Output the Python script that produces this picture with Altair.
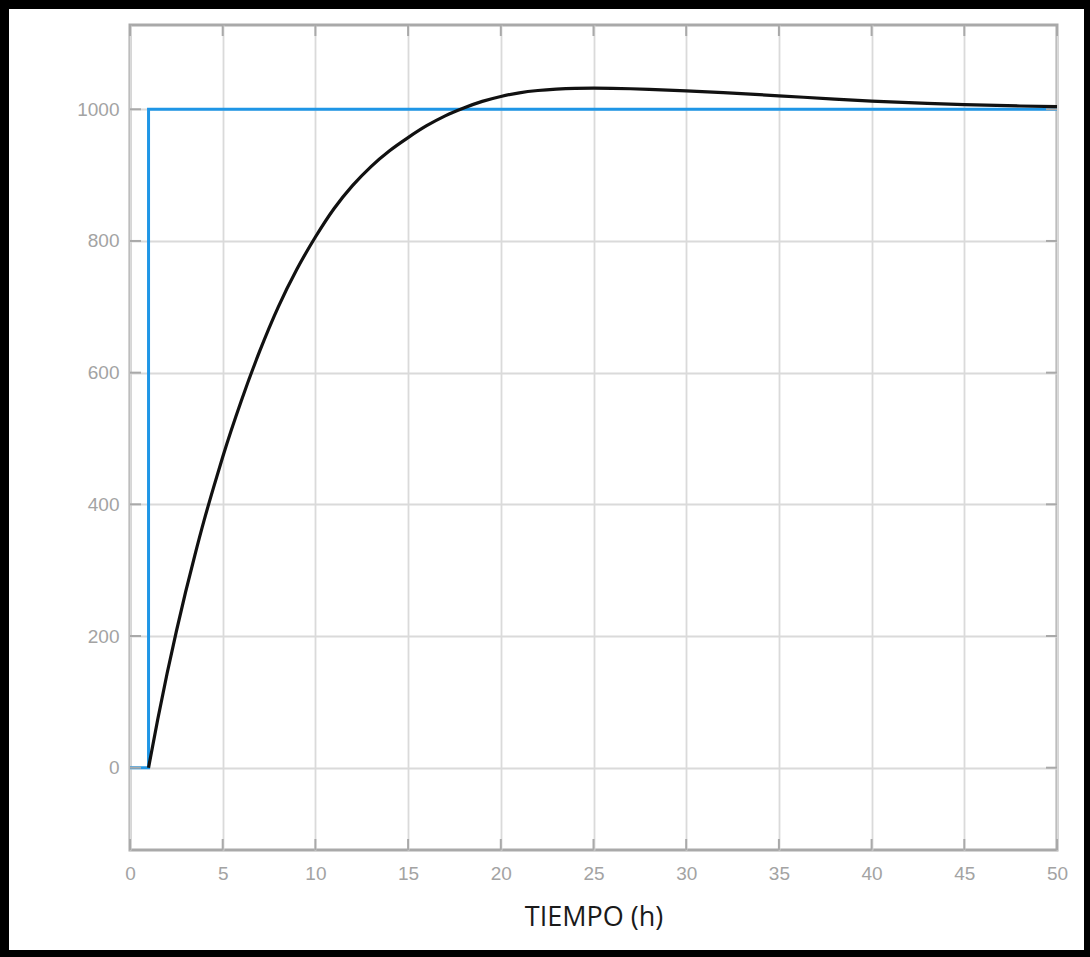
import altair as alt
import pandas as pd

# ---- data ----
t_step = [0, 1, 1, 50]
y_step = [0, 0, 1000, 1000]

t_resp = [1, 1.5, 2, 2.5, 3, 3.5, 4, 4.5, 5, 6, 7, 8, 9, 10, 11, 12, 13, 14, 15,
          16, 17, 18, 19, 20, 21, 22, 23, 24, 25, 26, 27, 28, 29, 30, 32, 35, 38, 40,
          43, 45, 48, 50]
y_resp = [0, 74, 143, 207, 267, 323, 376, 425, 472, 557, 633, 700, 757, 806, 849, 884,
          913, 937, 957, 975, 990, 1002, 1012, 1019.5, 1025, 1028.5, 1030.6, 1031.7,
          1032, 1031.8, 1031.2, 1030.3, 1029.2, 1028, 1025.2, 1020.5, 1015.5, 1012.5,
          1009, 1007, 1005, 1004]

x_ticks = [0, 5, 10, 15, 20, 25, 30, 35, 40, 45, 50]
y_ticks = [0, 200, 400, 600, 800, 1000]
x_title = "TIEMPO (h)"

W, H = 927, 825
FRAME = "#a9a9a9"
LABEL = "#a3a3a3"
GRID = "#dadada"

xs = alt.Scale(domain=[0, 50], nice=False, zero=False)
ys = alt.Scale(domain=[-125, 1128], nice=False, zero=False)

step_df = pd.DataFrame({"t": t_step, "y": y_step, "o": list(range(len(t_step)))})
resp_df = pd.DataFrame({"t": t_resp, "y": y_resp})
xt_df = pd.DataFrame({"t": x_ticks})
yt_df = pd.DataFrame({"y": y_ticks})


def x_axis():
    return alt.Axis(values=x_ticks, format="d", grid=True, gridColor=GRID, gridWidth=1.8,
                    ticks=False, domain=False, labelColor=LABEL, labelFontSize=19,
                    labelFont="Liberation Sans", labelPadding=14, labelFlush=False,
                    title=x_title, titleFont="Open Sans", titleFontSize=27,
                    titleFontWeight="normal", titleColor="#1a1a1a", titlePadding=21)


def y_axis():
    return alt.Axis(values=y_ticks, format="d", grid=True, gridColor=GRID, gridWidth=1.8,
                    ticks=False, domain=False, labelColor=LABEL, labelFontSize=19,
                    labelFont="Liberation Sans", labelPadding=11, labelFlush=False,
                    title=None)


X = lambda: alt.X("t:Q", scale=xs, axis=x_axis())
Y = lambda: alt.Y("y:Q", scale=ys, axis=y_axis())

blue = alt.Chart(step_df).mark_line(color="#1f96e6", strokeWidth=3).encode(
    x=X(), y=Y(), order="o:Q")

black = alt.Chart(resp_df).mark_line(color="#111111", strokeWidth=3.2,
                                     interpolate="monotone").encode(x=X(), y=Y())

TL = 11
tick_b = alt.Chart(xt_df).mark_rule(color=FRAME, strokeWidth=2).encode(
    x=X(), y=alt.value(H), y2=alt.value(H - TL))
tick_t = alt.Chart(xt_df).mark_rule(color=FRAME, strokeWidth=2).encode(
    x=X(), y=alt.value(0), y2=alt.value(TL))
tick_l = alt.Chart(yt_df).mark_rule(color=FRAME, strokeWidth=2).encode(
    y=Y(), x=alt.value(0), x2=alt.value(TL))
tick_r = alt.Chart(yt_df).mark_rule(color=FRAME, strokeWidth=2).encode(
    y=Y(), x=alt.value(W), x2=alt.value(W - TL))

one = alt.Data(values=[{"a": 1}])
b_left = alt.Chart(one).mark_rule(color="black", strokeWidth=9).encode(
    x=alt.value(-125.5), y=alt.value(-25), y2=alt.value(932))
b_right = alt.Chart(one).mark_rule(color="black", strokeWidth=6).encode(
    x=alt.value(957), y=alt.value(-25), y2=alt.value(932))
b_top = alt.Chart(one).mark_rule(color="black", strokeWidth=9).encode(
    y=alt.value(-20.5), x=alt.value(-130), x2=alt.value(960))
b_bot = alt.Chart(one).mark_rule(color="black", strokeWidth=7).encode(
    y=alt.value(928.5), x=alt.value(-130), x2=alt.value(960))

chart = alt.layer(
    blue, tick_b, tick_t, tick_l, tick_r, black, b_left, b_right, b_top, b_bot
).properties(
    width=W, height=H,
    padding={"left": 130, "top": 25, "right": 33, "bottom": 107},
    autosize=alt.AutoSizeParams(type="none"),
    background="white",
).configure_view(stroke=FRAME, strokeWidth=3)

chart.save("out.html", embed_options={"renderer": "svg", "actions": False})
